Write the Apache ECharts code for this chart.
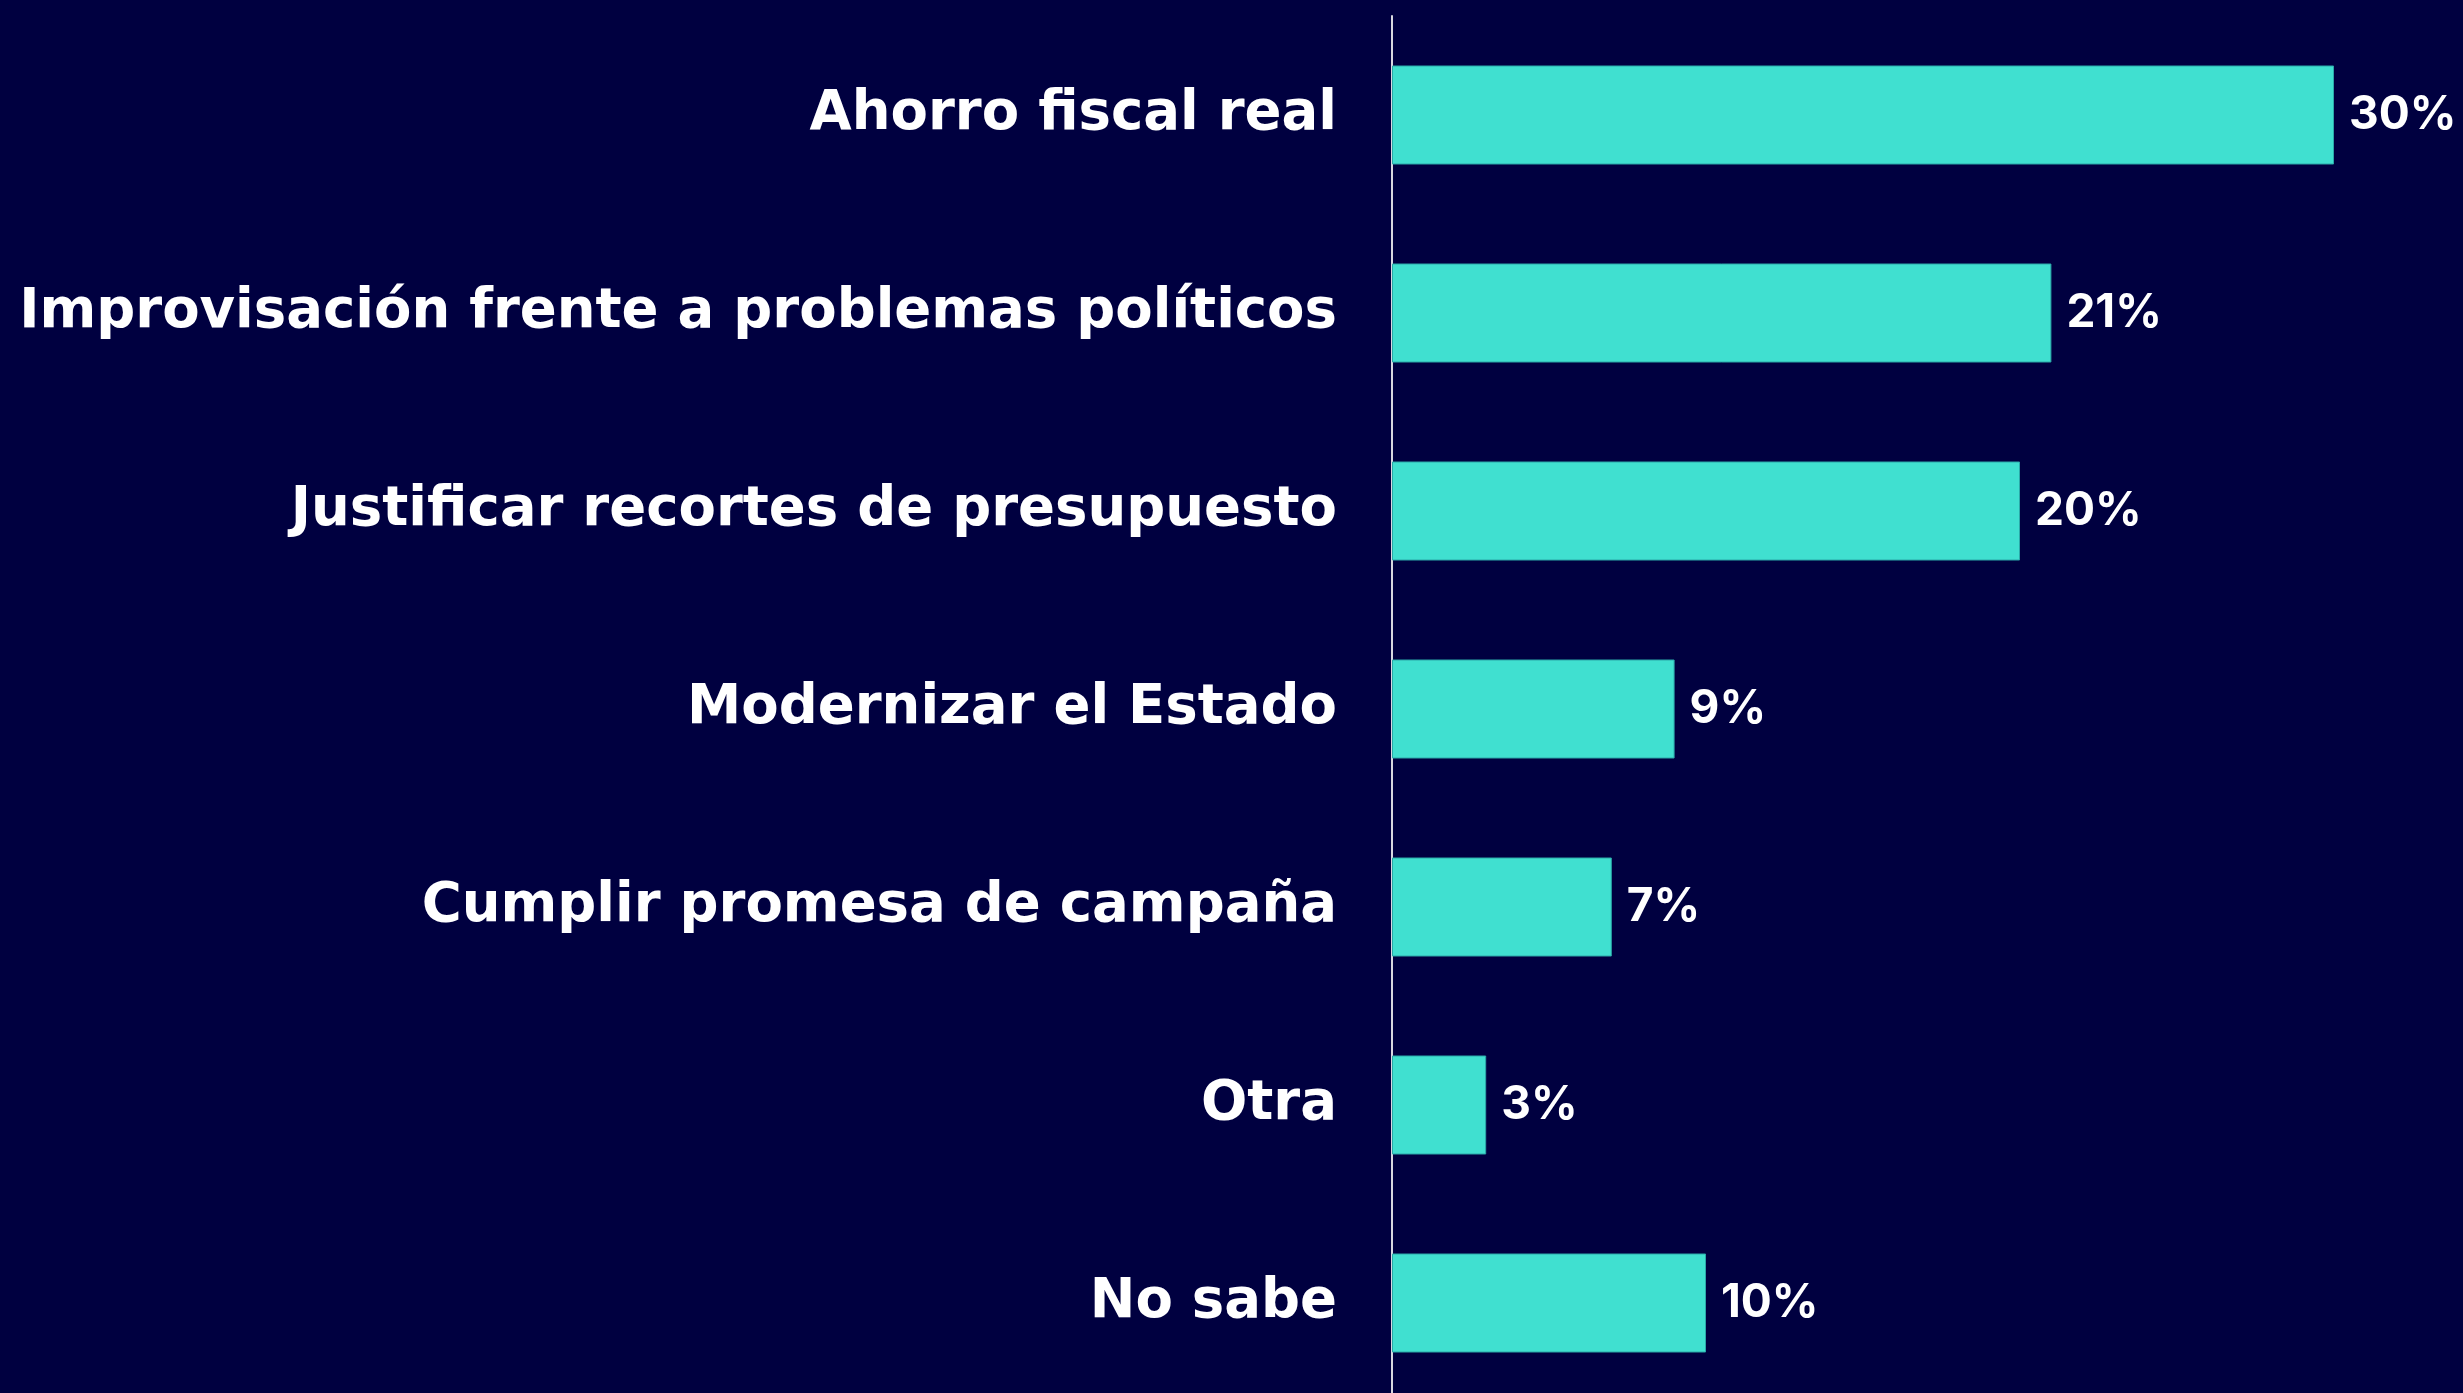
<!DOCTYPE html>
<html>
<head>
<meta charset="utf-8">
<script src="https://cdn.jsdelivr.net/npm/echarts@6/dist/echarts.min.js"></script>
<style>
html,body{margin:0;padding:0;background:#000040;overflow:hidden;}
#c{width:2463px;height:1410px;}
</style>
</head>
<body>
<div id="c"></div>
<script>
const categories = ["Ahorro fiscal real","Improvisación frente a problemas políticos","Justificar recortes de presupuesto","Modernizar el Estado","Cumplir promesa de campaña","Otra","No sabe"];
const values = [30,21,20,9,7,3,10];

const chart = echarts.init(document.getElementById('c'));
chart.setOption({
  backgroundColor:'#000040',
  animation:false,
  grid:{left:1392,top:16,width:942,height:1386,containLabel:false},
  xAxis:{type:'value',min:0,max:30,show:false},
  yAxis:{type:'category',data:categories,inverse:true,
    axisLine:{show:true,lineStyle:{color:'#d8d8e0',width:2}},
    axisTick:{show:false},
    axisLabel:{color:'#ffffff',fontFamily:'DejaVu Sans',fontWeight:700,fontSize:54.5,margin:55}
  },
  series:[{type:'bar',data:values,barWidth:'50%',
    itemStyle:{color:'#40E0D0',borderColor:'#2aa8a8',borderWidth:1},
    label:{show:true,position:'right',distance:15,formatter:'{c}%',color:'#ffffff',fontFamily:'Inter',fontWeight:700,fontSize:46}
  }]
});
</script>
</body>
</html>
